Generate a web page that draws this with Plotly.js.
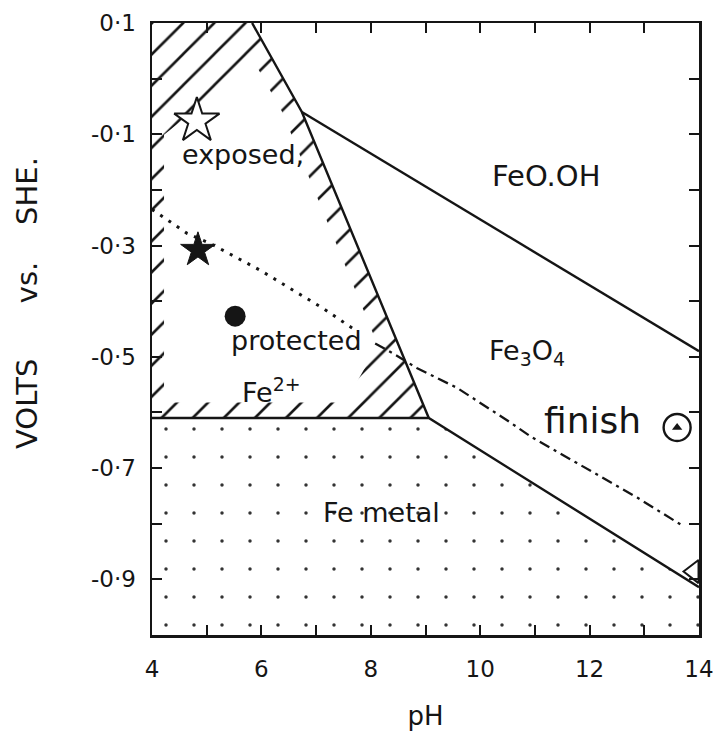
<!DOCTYPE html>
<html>
<head>
<meta charset="utf-8">
<script src="https://cdn.plot.ly/plotly-3.0.1.min.js"></script>
<style>html,body{margin:0;padding:0;background:#fff;}#chart{width:713px;height:734px;}</style>
</head>
<body>
<div id="chart"></div>
<script>
// ---- Data (pH, volts vs. SHE) ----
// Phase boundaries
const lineAB_pH = [5.83, 6.74, 9.06];
const lineAB_V  = [0.1, -0.06, -0.61];
const lineBD_pH = [6.74, 14];
const lineBD_V  = [-0.06, -0.49];
const lineFe_pH = [4, 9.06, 14];
const lineFe_V  = [-0.61, -0.61, -0.914];

// Fe2+ field (hatched near its borders)
const fe2Region_pH = [4, 5.83, 6.74, 9.06, 4];
const fe2Region_V  = [0.1, 0.1, -0.06, -0.61, -0.61];
const fe2Inner_pH  = [4.22, 4.22, 5.87, 6.38, 8.13, 7.53];
const fe2Inner_V   = [-0.582, -0.101, 0.03, -0.06, -0.479, -0.582];

// Fe metal field (dotted)
const feMetal_pH = [4, 9.06, 14, 14, 4];
const feMetal_V  = [-0.61, -0.61, -0.914, -1.0, -1.0];

// exposed / protected boundary
const dotted_pH = [4, 4.64, 5.06, 5.97, 7.13, 7.67];
const dotted_V  = [-0.235, -0.278, -0.296, -0.344, -0.413, -0.449];
const dashed_pH = [8.08, 8.41, 8.84, 9.58, 10.49, 10.95, 11.77, 12.87, 13.69];
const dashed_V  = [-0.476, -0.494, -0.52, -0.556, -0.614, -0.645, -0.691, -0.753, -0.803];

// Points
const openStar   = {pH: [4.82], V: [-0.076]};
const filledStar = {pH: [4.84], V: [-0.308]};
const dotPoint   = {pH: [5.52], V: [-0.427]};
const finishPt   = {pH: [13.6], V: [-0.627]};
const startPt    = {pH: [13.9], V: [-0.886]};

// Labels
const labelText = ['exposed,', 'FeO.OH', 'Fe<sub>3</sub>O<sub>4</sub>', 'protected', 'Fe<sup>2+</sup>', 'finish', 'Fe metal'];
const labelPH   = [5.67, 11.2, 10.86, 6.65, 6.19, 12.06, 8.2];
const labelV    = [-0.137, -0.175, -0.492, -0.47, -0.56, -0.614, -0.78];
const labelSize = [27, 29, 27, 27, 27, 36, 27];

// Ticks
const xTickVals  = [4, 6, 8, 10, 12, 14];
const xTickText  = ['4', '6', '8', '10', '12', '14'];
const xMinorVals = [5, 7, 9, 11, 13];
const yTickVals  = [0.1, -0.1, -0.3, -0.5, -0.7, -0.9];
const yTickText  = ['0·1', '-0·1', '-0·3', '-0·5', '-0·7', '-0·9'];
const yMinorVals = [0.0, -0.2, -0.4, -0.6, -0.8];
const yTitleText = 'VOLTS\u00A0\u00A0\u00A0\u00A0\u00A0\u00A0vs.\u00A0\u00A0\u00A0\u00A0SHE.';

const INK = '#151515';
const FONT = 'DejaVu Sans';

const traces = [
  { x: fe2Region_pH, y: fe2Region_V, type: 'scatter', mode: 'lines', fill: 'toself',
    fillcolor: 'white', line: {width: 0, color: 'rgba(0,0,0,0)'},
    fillpattern: {shape: '/', size: 22, solidity: 0.12, fgcolor: INK, bgcolor: 'white', fillmode: 'replace'},
    hoverinfo: 'skip', showlegend: false },
  { x: fe2Inner_pH, y: fe2Inner_V, type: 'scatter', mode: 'lines', fill: 'toself',
    fillcolor: 'white', line: {width: 0, color: 'rgba(0,0,0,0)'}, hoverinfo: 'skip', showlegend: false },
  { x: feMetal_pH, y: feMetal_V, type: 'scatter', mode: 'lines', fill: 'toself',
    fillcolor: 'white', line: {width: 0, color: 'rgba(0,0,0,0)'},
    fillpattern: {shape: '.', size: 28, solidity: 0.012, fgcolor: '#333', bgcolor: 'white', fillmode: 'replace'},
    hoverinfo: 'skip', showlegend: false },
  { x: dotted_pH, y: dotted_V, type: 'scatter', mode: 'lines',
    line: {color: INK, width: 3, dash: '3px,7px'}, showlegend: false },
  { x: dashed_pH, y: dashed_V, type: 'scatter', mode: 'lines',
    line: {color: INK, width: 2.3, dash: '11px,5px,3px,5px'}, showlegend: false },
  { x: lineAB_pH, y: lineAB_V, type: 'scatter', mode: 'lines', line: {color: INK, width: 2.4}, showlegend: false },
  { x: lineBD_pH, y: lineBD_V, type: 'scatter', mode: 'lines', line: {color: INK, width: 2.4}, showlegend: false },
  { x: lineFe_pH, y: lineFe_V, type: 'scatter', mode: 'lines', line: {color: INK, width: 2.4}, showlegend: false },
  { x: openStar.pH, y: openStar.V, type: 'scatter', mode: 'markers',
    marker: {symbol: 'star', size: 34, color: 'white', line: {color: INK, width: 2}}, showlegend: false },
  { x: filledStar.pH, y: filledStar.V, type: 'scatter', mode: 'markers',
    marker: {symbol: 'star', size: 26, color: INK, line: {color: INK, width: 1}}, showlegend: false },
  { x: dotPoint.pH, y: dotPoint.V, type: 'scatter', mode: 'markers',
    marker: {symbol: 'circle', size: 21, color: INK}, showlegend: false },
  { x: finishPt.pH, y: finishPt.V, type: 'scatter', mode: 'markers',
    marker: {symbol: 'circle-open', size: 27, color: INK, line: {width: 2.4, color: INK}}, showlegend: false },
  { x: finishPt.pH, y: finishPt.V, type: 'scatter', mode: 'markers',
    marker: {symbol: 'triangle-up', size: 9, color: INK}, showlegend: false },
  { x: startPt.pH, y: startPt.V, type: 'scatter', mode: 'markers', cliponaxis: false,
    marker: {symbol: 'triangle-left-open', size: 20, color: INK, line: {width: 2, color: INK}}, showlegend: false }
];

const annotations = labelText.map((t, i) => ({
  x: labelPH[i], y: labelV[i], xref: 'x', yref: 'y', text: t, showarrow: false,
  font: {family: FONT, size: labelSize[i], color: INK}, xanchor: 'center', yanchor: 'middle'
}));
// y-axis title placed to match the reference (slightly above the axis middle)
annotations.push({
  x: -0.2285, y: 0.5425, xref: 'paper', yref: 'paper', text: yTitleText, textangle: -90,
  showarrow: false, xanchor: 'center', yanchor: 'middle',
  font: {family: FONT, size: 29, color: INK}
});

const axisCommon = {
  showgrid: false, zeroline: false, showline: true, linecolor: INK, linewidth: 2.5,
  mirror: 'ticks', ticks: 'inside', ticklen: 10, tickwidth: 2, tickcolor: INK,
  ticklabeloverflow: 'allow',
  tickfont: {family: FONT, size: 23, color: INK}
};

const layout = {
  width: 713, height: 734,
  margin: {l: 152, r: 14, t: 23, b: 99},
  paper_bgcolor: 'white', plot_bgcolor: 'white',
  showlegend: false,
  xaxis: Object.assign({}, axisCommon, {
    range: [4, 14], tickmode: 'array', tickvals: xTickVals, ticktext: xTickText,
    minor: {tickmode: 'array', tickvals: xMinorVals, ticks: 'inside', ticklen: 10, tickwidth: 2, tickcolor: INK},
    ticklabelstandoff: 12,
    title: {text: 'pH', font: {family: FONT, size: 26, color: INK}, standoff: 26}
  }),
  yaxis: Object.assign({}, axisCommon, {
    range: [-1.0, 0.1], tickmode: 'array', tickvals: yTickVals, ticktext: yTickText,
    minor: {tickmode: 'array', tickvals: yMinorVals, ticks: 'inside', ticklen: 10, tickwidth: 2, tickcolor: INK},
    ticklabelstandoff: 9
  }),
  annotations: annotations
};

Plotly.newPlot('chart', traces, layout, {staticPlot: true, displayModeBar: false});
</script>
</body>
</html>
